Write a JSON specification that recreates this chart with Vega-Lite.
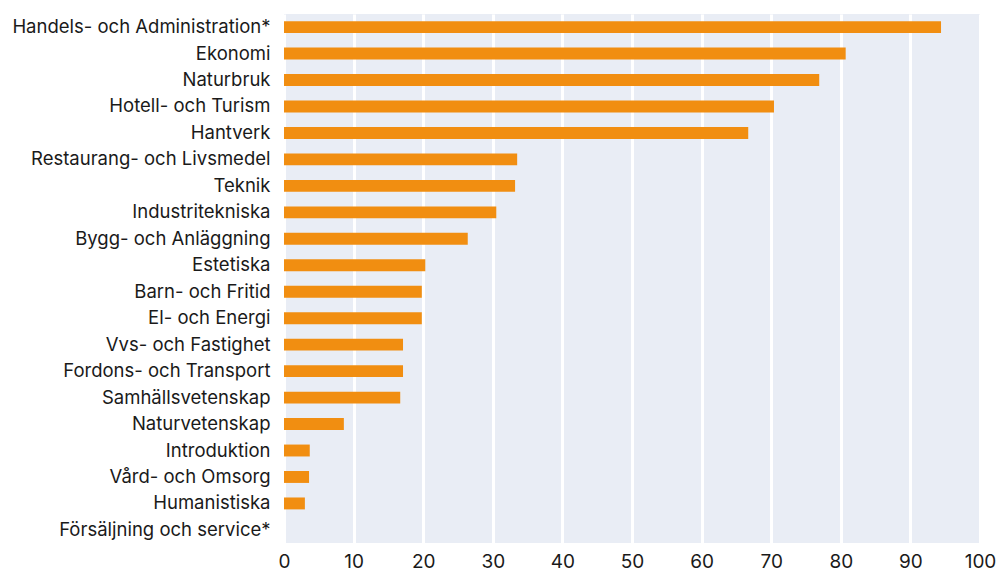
{
  "$schema": "https://vega.github.io/schema/vega-lite/v6.json",
  "autosize": "none",
  "width": 696,
  "height": 529,
  "padding": {"left": 284, "top": 14, "right": 20, "bottom": 29},
  "background": "white",
  "config": {
    "view": {"fill": "#e9edf5", "stroke": null},
    "font": "Inter"
  },
  "data": {
    "values": [
      {"program": "Handels- och Administration*", "value": 94.4},
      {"program": "Ekonomi", "value": 80.7},
      {"program": "Naturbruk", "value": 76.9},
      {"program": "Hotell- och Turism", "value": 70.4},
      {"program": "Hantverk", "value": 66.7},
      {"program": "Restaurang- och Livsmedel", "value": 33.5},
      {"program": "Teknik", "value": 33.2},
      {"program": "Industritekniska", "value": 30.5},
      {"program": "Bygg- och Anläggning", "value": 26.4},
      {"program": "Estetiska", "value": 20.3},
      {"program": "Barn- och Fritid", "value": 19.8},
      {"program": "El- och Energi", "value": 19.8},
      {"program": "Vvs- och Fastighet", "value": 17.1},
      {"program": "Fordons- och Transport", "value": 17.1},
      {"program": "Samhällsvetenskap", "value": 16.7},
      {"program": "Naturvetenskap", "value": 8.6},
      {"program": "Introduktion", "value": 3.7},
      {"program": "Vård- och Omsorg", "value": 3.6},
      {"program": "Humanistiska", "value": 3.0},
      {"program": "Försäljning och service*", "value": 0}
    ]
  },
  "mark": {"type": "bar", "color": "#f18e11"},
  "encoding": {
    "y": {
      "field": "program",
      "type": "nominal",
      "sort": null,
      "scale": {"paddingInner": 0.55, "paddingOuter": 0.27},
      "axis": {
        "title": null,
        "domain": false,
        "ticks": false,
        "grid": false,
        "labelPadding": 14,
        "labelFontSize": 18.5,
        "labelColor": "#1a1a1a",
        "labelLimit": 300
      }
    },
    "x": {
      "field": "value",
      "type": "quantitative",
      "scale": {"domain": [0, 100], "nice": false},
      "axis": {
        "title": null,
        "domain": false,
        "ticks": false,
        "values": [0, 10, 20, 30, 40, 50, 60, 70, 80, 90, 100],
        "grid": true,
        "gridColor": "white",
        "gridWidth": 3,
        "labelPadding": 9,
        "labelFontSize": 19,
        "labelColor": "#1a1a1a",
        "labelFlush": false
      }
    }
  }
}
